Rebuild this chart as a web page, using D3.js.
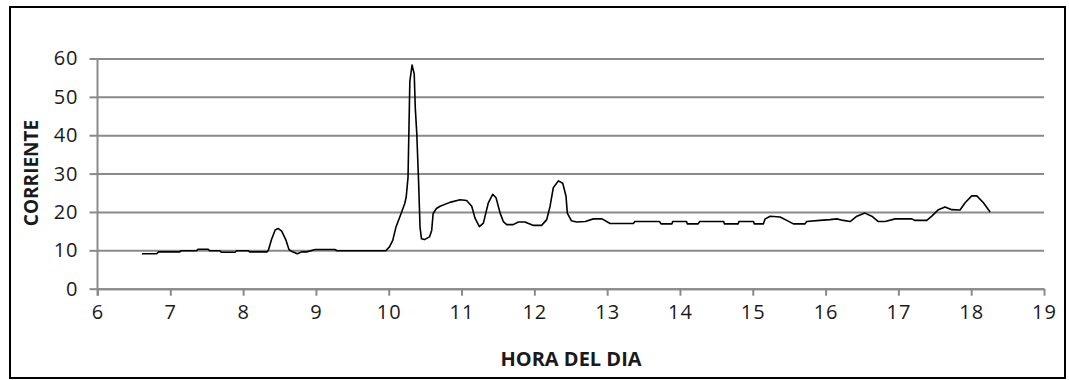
<!DOCTYPE html>
<html>
<head>
<meta charset="utf-8">
<script src="https://cdn.jsdelivr.net/npm/d3@7"></script>
<style>
  html, body { margin: 0; padding: 0; background: #fff; }
  svg { display: block; }
  text { font-family: "Open Sans", Lato, sans-serif; fill: #1a1a1a; }
</style>
</head>
<body>
<svg id="chart" width="1069" height="380"></svg>
<script>
// Hora del día (horas decimales) y corriente medida
const hora = [
  6.61, 6.81, 6.84, 7.13, 7.15, 7.36, 7.38, 7.52, 7.54, 7.68, 7.70, 7.89, 7.91, 8.07, 8.09, 8.33,
  8.35, 8.39, 8.44, 8.48, 8.53, 8.585, 8.63, 8.67, 8.745, 8.805, 8.874, 8.99, 9.26, 9.29, 9.96,
  10.01, 10.055, 10.10, 10.17, 10.22, 10.24, 10.265, 10.29, 10.32, 10.35, 10.365, 10.385, 10.41,
  10.43, 10.45, 10.49, 10.56, 10.59, 10.61, 10.655, 10.705, 10.84, 10.98, 11.07, 11.14, 11.185,
  11.245, 11.30, 11.368, 11.428, 11.474, 11.53, 11.574, 11.62, 11.71, 11.78, 11.87, 11.92, 11.99,
  12.10, 12.17, 12.216, 12.26, 12.33, 12.39, 12.435, 12.453, 12.51, 12.58, 12.70, 12.81, 12.93,
  13.04, 13.36, 13.38, 13.72, 13.74, 13.89, 13.90, 14.09, 14.10, 14.25, 14.27, 14.60, 14.61,
  14.80, 14.81, 15.01, 15.02, 15.146, 15.17, 15.24, 15.375, 15.467, 15.558, 15.718, 15.74, 15.92,
  16.06, 16.154, 16.245, 16.337, 16.43, 16.54, 16.635, 16.725, 16.817, 16.955, 17.184, 17.23,
  17.39, 17.459, 17.55, 17.64, 17.733, 17.847, 17.916, 18.008, 18.077, 18.168, 18.26
];
const corriente = [
  9.1, 9.1, 9.6, 9.6, 9.9, 9.9, 10.3, 10.3, 9.9, 9.9, 9.5, 9.5, 9.9, 9.9, 9.6, 9.6,
  10.2, 12.8, 15.3, 15.7, 15.0, 12.8, 10.2, 9.7, 9.1, 9.6, 9.6, 10.2, 10.2, 9.9, 9.9,
  10.9, 12.6, 16.1, 19.6, 22.2, 23.9, 29.0, 54.0, 58.3, 56.0, 47.0, 40.5, 28.0,
  16.0, 13.0, 12.8, 13.5, 15.2, 19.6, 20.9, 21.5, 22.5, 23.2, 23.0, 21.5, 18.4,
  16.2, 17.1, 22.4, 24.6, 23.7, 19.7, 17.5, 16.7, 16.7, 17.4, 17.4, 17.0, 16.5,
  16.5, 18.0, 21.5, 26.3, 28.1, 27.5, 24.1, 19.7, 17.7, 17.4, 17.5, 18.2, 18.2,
  17.0, 17.0, 17.5, 17.5, 16.9, 16.9, 17.5, 17.5, 16.9, 16.9, 17.5, 17.5, 16.9,
  16.9, 17.5, 17.5, 16.9, 16.9, 18.2, 18.9, 18.7, 17.8, 16.9, 16.9, 17.5, 17.8,
  18.0, 18.2, 17.8, 17.5, 18.9, 19.7, 18.9, 17.5, 17.5, 18.2, 18.2, 17.8,
  17.8, 18.9, 20.6, 21.3, 20.6, 20.5, 22.4, 24.2, 24.2, 22.4, 20.0
];
const xTicks = [6, 7, 8, 9, 10, 11, 12, 13, 14, 15, 16, 17, 18, 19];
const yTicks = [0, 10, 20, 30, 40, 50, 60];
const xTitle = "HORA DEL DIA";
const yTitle = "CORRIENTE";

const svg = d3.select("#chart");
const gridColor = "#8a8a8a";

// marco exterior
svg.append("rect")
  .attr("x", 10).attr("y", 7).attr("width", 1055).attr("height", 371)
  .attr("fill", "none").attr("stroke", "#000").attr("stroke-width", 2);

const x = d3.scaleLinear().domain([6, 19]).range([97.5, 1044]);
const y = d3.scaleLinear().domain([0, 60]).range([288.7, 58.5]);

// líneas de cuadrícula horizontales
svg.append("g")
  .attr("transform", `translate(${x(6)},0)`)
  .call(d3.axisLeft(y).tickValues(yTicks).tickSize(-(x(19) - x(6))).tickFormat(""))
  .call(g => g.select(".domain").remove())
  .call(g => g.selectAll(".tick line").attr("stroke", gridColor).attr("stroke-width", 2));

// eje Y
const yAxis = svg.append("g")
  .attr("transform", `translate(${x(6)},0)`)
  .call(d3.axisLeft(y).tickValues(yTicks).tickSize(8).tickSizeOuter(0).tickPadding(11));
yAxis.select(".domain").attr("stroke", gridColor).attr("stroke-width", 2)
  .attr("d", `M0,${y(60)}V${y(0) + 7}`);
yAxis.selectAll(".tick line").attr("stroke", gridColor).attr("stroke-width", 2);
yAxis.selectAll(".tick text").attr("font-size", 20).attr("letter-spacing", 1)
  .attr("fill", "#1a1a1a").attr("font-family", "'Open Sans', sans-serif");

// eje X
const xAxis = svg.append("g")
  .attr("transform", `translate(0,${y(0)})`)
  .call(d3.axisBottom(x).tickValues(xTicks).tickSize(7).tickSizeOuter(0).tickPadding(9));
xAxis.select(".domain").attr("stroke", gridColor).attr("stroke-width", 2);
xAxis.selectAll(".tick line").attr("stroke", gridColor).attr("stroke-width", 2);
xAxis.selectAll(".tick text").attr("font-size", 20).attr("letter-spacing", 1)
  .attr("fill", "#1a1a1a").attr("font-family", "'Open Sans', sans-serif");

// serie de corriente
const datos = hora.map((h, i) => ({ h, c: corriente[i] }));
svg.append("path")
  .datum(datos)
  .attr("fill", "none")
  .attr("stroke", "#000")
  .attr("stroke-width", 1.6)
  .attr("stroke-linejoin", "round")
  .attr("d", d3.line().x(d => x(d.h)).y(d => y(d.c)));

// títulos de los ejes
svg.append("text")
  .attr("x", 571).attr("y", 366)
  .attr("text-anchor", "middle")
  .attr("font-size", 20).attr("font-weight", "bold")
  .text(xTitle);

svg.append("text")
  .attr("transform", "translate(38,173) rotate(-90)")
  .attr("text-anchor", "middle")
  .attr("font-size", 19).attr("font-weight", "bold")
  .text(yTitle);
</script>
</body>
</html>
